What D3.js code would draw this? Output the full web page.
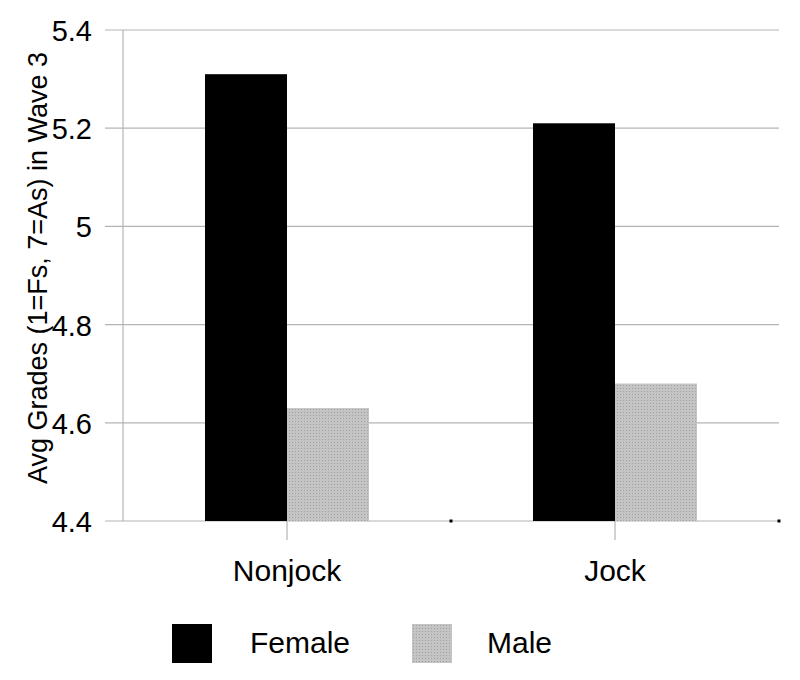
<!DOCTYPE html>
<html>
<head>
<meta charset="utf-8" />
<title>Avg Grades</title>
<style>
  body { margin: 0; background: #fff; }
  text { font-family: "Liberation Sans", Arial, sans-serif; fill: #000; }
</style>
</head>
<body>
<script src="https://d3js.org/d3.v7.min.js"></script>
<script>
var categories = ["Nonjock", "Jock"];
var seriesNames = ["Female", "Male"];
var female = [5.31, 5.21];
var male = [4.63, 4.68];
var yTicks = [4.4, 4.6, 4.8, 5, 5.2, 5.4];
var yTitle = "Avg Grades (1=Fs, 7=As) in Wave 3";

var width = 800, height = 680;
var plotLeft = 123, plotRight = 779, plotTop = 30, plotBottom = 521;

var svg = d3.select("body").append("svg")
    .attr("width", width).attr("height", height);

// dithered grey fill for the Male series
var defs = svg.append("defs");
var pat = defs.append("pattern")
    .attr("id", "dots").attr("patternUnits", "userSpaceOnUse")
    .attr("width", 3).attr("height", 3);
pat.append("rect").attr("width", 3).attr("height", 3).attr("fill", "#c4c4c4");
pat.append("rect").attr("x", 1).attr("y", 1).attr("width", 1).attr("height", 1).attr("fill", "#a0a0a0");

var x0 = d3.scaleBand().domain(categories).range([plotLeft, plotRight]);
var x1 = d3.scaleBand().domain(seriesNames).range([0, x0.bandwidth()]).paddingOuter(1.0);
var y = d3.scaleLinear().domain([4.4, 5.4]).range([plotBottom, plotTop]);

// gridlines + tick marks
svg.append("g").selectAll("line").data(yTicks).enter().append("line")
    .attr("x1", plotLeft - 18).attr("x2", plotRight)
    .attr("y1", d => y(d)).attr("y2", d => y(d))
    .attr("stroke", "#b4b4b4").attr("stroke-width", 1.2);

svg.append("line")
    .attr("x1", plotLeft).attr("x2", plotLeft).attr("y1", plotTop).attr("y2", plotBottom)
    .attr("stroke", "#b4b4b4").attr("stroke-width", 1.2);

var rows = categories.map((c, i) => ({cat: c, vals: [female[i], male[i]]}));

var groups = svg.append("g").selectAll("g").data(rows).enter().append("g")
    .attr("transform", d => "translate(" + x0(d.cat) + ",0)");

groups.selectAll("rect").data(d => d.vals.map((v, j) => ({name: seriesNames[j], v: v})))
    .enter().append("rect")
    .attr("x", d => x1(d.name))
    .attr("width", x1.bandwidth())
    .attr("y", d => y(d.v))
    .attr("height", d => plotBottom - y(d.v))
    .attr("fill", d => d.name == "Female" ? "#000" : "url(#dots)");

// ticks under category centres, dots at band edges
svg.append("g").selectAll("line").data(categories).enter().append("line")
    .attr("x1", d => x0(d) + x0.bandwidth() / 2).attr("x2", d => x0(d) + x0.bandwidth() / 2)
    .attr("y1", plotBottom).attr("y2", plotBottom + 19)
    .attr("stroke", "#b4b4b4").attr("stroke-width", 1.2);
svg.append("g").selectAll("rect").data(categories).enter().append("rect")
    .attr("x", d => x0(d) + x0.bandwidth() - 1.5).attr("y", plotBottom - 1.5)
    .attr("width", 3).attr("height", 3).attr("fill", "#000");

svg.append("g").selectAll("text").data(yTicks).enter().append("text")
    .attr("x", 92).attr("y", d => y(d) + 11)
    .attr("text-anchor", "end").attr("font-size", 29)
    .text(d => d3.format("")(d));

svg.append("g").selectAll("text").data(categories).enter().append("text")
    .attr("x", d => x0(d) + x0.bandwidth() / 2).attr("y", 581)
    .attr("text-anchor", "middle").attr("font-size", 30)
    .text(d => d);

svg.append("text")
    .attr("transform", "translate(47,268) rotate(-90)")
    .attr("text-anchor", "middle").attr("font-size", 27)
    .text(yTitle);

// legend
var legX = [172, 412];
var leg = svg.append("g").selectAll("g").data(seriesNames).enter().append("g")
    .attr("transform", (d, i) => "translate(" + legX[i] + ",624)");
leg.append("rect").attr("width", 40).attr("height", 39)
    .attr("fill", d => d == "Female" ? "#000" : "url(#dots)");
leg.append("text").attr("x", (d, i) => i == 0 ? 78 : 75).attr("y", 29)
    .attr("font-size", 30).text(d => d);
</script>
</body>
</html>
